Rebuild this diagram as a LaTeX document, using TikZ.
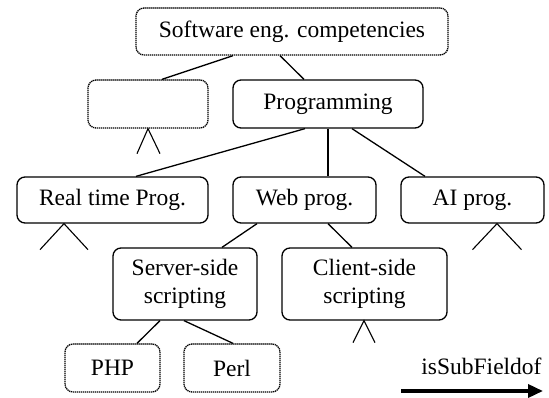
\documentclass[tikz,border=0pt]{standalone}
\usepackage{fontspec}
\setmainfont{Liberation Serif}
\usetikzlibrary{arrows.meta}
\begin{document}
\begin{tikzpicture}[x=1pt,y=-1pt,
  box/.style={draw,line width=1.3pt,rounded corners=8pt,inner sep=0pt,
    align=center,font=\fontsize{23.5}{28.5}\selectfont},
  ghost/.style={box,line width=1.3pt,dash pattern=on 1.3pt off 0.7pt},
  edge/.style={line width=1.3pt},
  fork/.style={line width=1.1pt}]
\useasboundingbox (0,0) rectangle (549,398);

% concept boxes
\node[ghost,minimum width=312pt,minimum height=47pt] (top)    at (292,31.5) {Software eng. competencies};
\node[ghost,minimum width=120pt,minimum height=48pt] (empty)  at (148,104) {};
\node[box,minimum width=190pt,minimum height=48pt]   (prog)   at (328,104) {Programming};
\node[box,minimum width=191pt,minimum height=46pt]   (rt)     at (112.5,200) {Real time Prog.};
\node[box,minimum width=143pt,minimum height=46pt]   (web)    at (304.5,200) {Web prog.};
\node[box,minimum width=143pt,minimum height=46pt]   (ai)     at (472.5,200) {AI prog.};
\node[box,minimum width=144pt,minimum height=72pt]   (server) at (185,284) {Server-side\\scripting};
\node[box,minimum width=165pt,minimum height=72pt]   (client) at (364.5,284) {Client-side\\scripting};
\node[ghost,minimum width=95pt,minimum height=48pt]  (php)    at (112.5,368) {PHP};
\node[ghost,minimum width=96pt,minimum height=48pt]  (perl)   at (232,368) {Perl};

% sub-field links
\draw[edge] ([xshift=-59pt]top.south) -- ([xshift=14pt]empty.north);
\draw[edge] ([xshift=-12pt]top.south) -- ([xshift=-24pt]prog.north);
\draw[edge] ([xshift=-23pt]prog.south) -- ([xshift=23.5pt]rt.north);
\draw[edge] (prog.south) -- ([xshift=23.5pt]web.north);
\draw[edge] ([xshift=24pt]prog.south) -- ([xshift=-47.5pt]ai.north);
\draw[edge] ([xshift=-47.5pt]web.south) -- ([xshift=37pt]server.north);
\draw[edge] ([xshift=23.5pt]web.south) -- ([xshift=-12.5pt]client.north);
\draw[edge] ([xshift=-25pt]server.south) -- ([xshift=24.5pt]php.north);
\draw[edge] ([xshift=-1pt]server.south) -- ([xshift=1pt]perl.north);

% open sub-trees
\draw[fork] ([xshift=-11pt,yshift=-25pt]empty.south) -- (empty.south) -- ([xshift=12pt,yshift=-25pt]empty.south);
\draw[fork] ([xshift=-72.5pt,yshift=-26pt]rt.south) -- ([xshift=-48.5pt]rt.south) -- ([xshift=-24.5pt,yshift=-26pt]rt.south);
\draw[fork] ([xshift=0pt,yshift=-26pt]ai.south) -- ([xshift=24.5pt]ai.south) -- ([xshift=49pt,yshift=-26pt]ai.south);
\draw[fork] ([xshift=-11.5pt,yshift=-22pt]client.south) -- ([xshift=-0.5pt]client.south) -- ([xshift=10.5pt,yshift=-22pt]client.south);

% legend
\coordinate (legS) at (401,391);
\coordinate (legE) at (543,391);
\draw[line width=3.5pt,-{Triangle[length=15pt,width=13pt]}] (legS) -- (legE);
\node[anchor=base,inner sep=0pt,font=\fontsize{23.5}{28.5}\selectfont] (leg) at (481.5,374) {isSubFieldof};
\end{tikzpicture}
\end{document}
